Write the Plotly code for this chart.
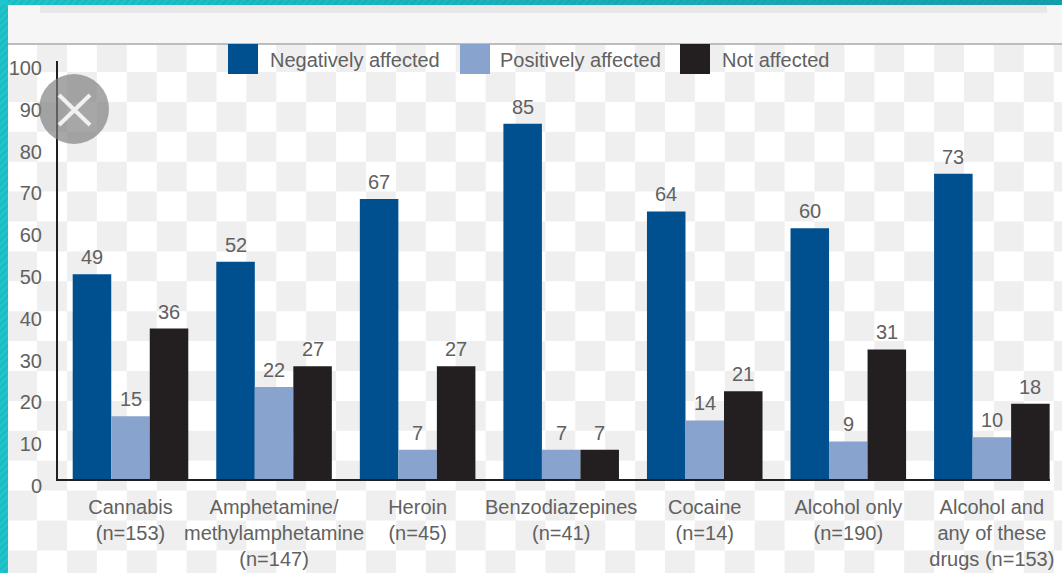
import plotly.graph_objects as go

W, H = 1062, 573

categories = [
    "Cannabis<br>(n=153)",
    "Amphetamine/<br>methylamphetamine<br>(n=147)",
    "Heroin<br>(n=45)",
    "Benzodiazepines<br>(n=41)",
    "Cocaine<br>(n=14)",
    "Alcohol only<br>(n=190)",
    "Alcohol and<br>any of these<br>drugs (n=153)",
]
negatively = [49, 52, 67, 85, 64, 60, 73]
positively = [15, 22, 7, 7, 14, 9, 10]
not_affected = [36, 27, 27, 7, 21, 31, 18]
y_ticks = [0, 10, 20, 30, 40, 50, 60, 70, 80, 90, 100]

BLUE, LIGHT, BLACK = "#00508f", "#88a3cd", "#231f20"
TEXT = "#616161"
FONT = "Liberation Sans"
BAR_PX = 38.5


def px(x):
    return x / W


def py(y):
    return 1 - y / H


def rect(x0, y0, x1, y1, color, layer="below"):
    return dict(type="rect", xref="paper", yref="paper", x0=px(x0), x1=px(x1),
                y0=py(y0), y1=py(y1), fillcolor=color, line_width=0, layer=layer)


shapes = [rect(0, 0, W, H, "#ffffff")]

# page frame: teal border, pale header strip and its rule
shapes.append(rect(0, 0, 8, H, "#1fc6cb"))
steps = 30
for i in range(steps):
    t = i / (steps - 1)
    colour = "rgb(%d,%d,%d)" % (31 - 9 * t, 198 - 38 * t, 203 - 30 * t)
    shapes.append(rect(i * W / steps, 0, (i + 1) * W / steps + 1, 5, colour))

# fine diagonal hatching across the teal border
hatch = []
for k in range(0, H + 8, 7):
    hatch.append("M%.4f,%.4fL%.4f,%.4fL%.4f,%.4fL%.4f,%.4fZ" % (
        px(0), py(k + 8), px(8), py(k), px(8), py(k + 3.5), px(0), py(k + 11.5)))
for k in range(8, W + 5, 7):
    hatch.append("M%.4f,%.4fL%.4f,%.4fL%.4f,%.4fL%.4f,%.4fZ" % (
        px(k - 5), py(5), px(k), py(0), px(k + 3.5), py(0), px(k - 1.5), py(5)))
shapes.append(dict(type="path", xref="paper", yref="paper", path="".join(hatch),
                   fillcolor="rgba(10,130,140,0.16)", line_width=0, layer="below"))

shapes.append(rect(8, 5, W, 43, "#f6f6f7"))
shapes.append(rect(40, 5, 1047, 13, "#e7e7e9"))
shapes.append(rect(8, 43, W, 45, "#bdbdbd"))

# checkered backdrop drawn as one compound path
CELL = 29.9
path = []
for r in range(18):
    top = 42.1 + r * CELL
    for c in range(36):
        if (r + c) % 2 == 1:
            x0, x1 = 7.2 + c * CELL, 7.2 + (c + 1) * CELL
            y0, y1 = max(top, 45), top + CELL
            x0 = max(x0, 8)
            path.append("M%.4f,%.4fH%.4fV%.4fH%.4fZ" % (px(x0), py(y0), px(x1), py(y1), px(x0)))
shapes.append(dict(type="path", xref="paper", yref="paper", path="".join(path),
                   fillcolor="#efefef", line_width=0, layer="below"))

# legend swatches and labels
series_names = ["Negatively affected", "Positively affected", "Not affected"]
annotations = []
for name, colour, sx, tx in zip(series_names, [BLUE, LIGHT, BLACK], [228, 460, 680], [268, 498, 720]):
    shapes.append(rect(sx, 44, sx + 30, 74, colour, layer="above"))
    annotations.append(dict(text=name, xref="paper", yref="paper", x=px(tx), y=py(60),
                            xanchor="left", yanchor="middle", showarrow=False,
                            font=dict(family=FONT, size=20, color=TEXT)))

# overlay dismiss button
shapes.append(dict(type="circle", xref="paper", yref="paper", x0=px(39), x1=px(109),
                   y0=py(144), y1=py(74), fillcolor="rgba(125,125,125,0.68)",
                   line_width=0, layer="above"))
for a, b, c, d in [(59, 95, 90, 125), (59, 125, 90, 95)]:
    shapes.append(dict(type="line", xref="paper", yref="paper", x0=px(a), y0=py(b),
                       x1=px(c), y1=py(d), line=dict(color="#f1f1f1", width=4), layer="above"))

fig = go.Figure()
all_series = [negatively, positively, not_affected]
for idx, (name, values, colour) in enumerate(zip(series_names, all_series, [BLUE, LIGHT, BLACK])):
    fig.add_trace(go.Bar(
        x=categories, y=values, name=name,
        marker=dict(color=colour, line_width=0), showlegend=False,
    ))
    # value labels sit just above each bar, stepped sideways by series
    for cat, v in zip(categories, values):
        annotations.append(dict(text=str(v), x=cat, y=v, xref="x", yref="y",
                                xshift=(idx - 1) * BAR_PX, yshift=4,
                                xanchor="center", yanchor="bottom", showarrow=False,
                                font=dict(family=FONT, size=20, color=TEXT)))

fig.update_layout(
    width=W, height=H, margin=dict(l=0, r=0, t=0, b=0, autoexpand=False),
    paper_bgcolor="#ffffff", plot_bgcolor="rgba(0,0,0,0)",
    barmode="group", bargap=0.195, bargroupgap=0,
    shapes=shapes, annotations=annotations,
    font=dict(family=FONT, size=20, color=TEXT),
    xaxis=dict(domain=[px(58), px(1050)], range=[-0.505, 6.405], type="category",
               automargin=False, showline=True, linecolor="#231f20", linewidth=2, ticks="",
               showgrid=False, zeroline=False, tickangle=0, ticklabelstandoff=9,
               tickfont=dict(family=FONT, size=20, color=TEXT)),
    yaxis=dict(domain=[py(479), py(61)], range=[0, 100], tickvals=y_ticks,
               automargin=False, showline=True, linecolor="#231f20", linewidth=2, ticks="",
               showgrid=False, zeroline=False, ticklabelstandoff=10, ticklabelshift=7,
               tickfont=dict(family=FONT, size=20, color=TEXT)),
)

fig.write_html("out.html")
